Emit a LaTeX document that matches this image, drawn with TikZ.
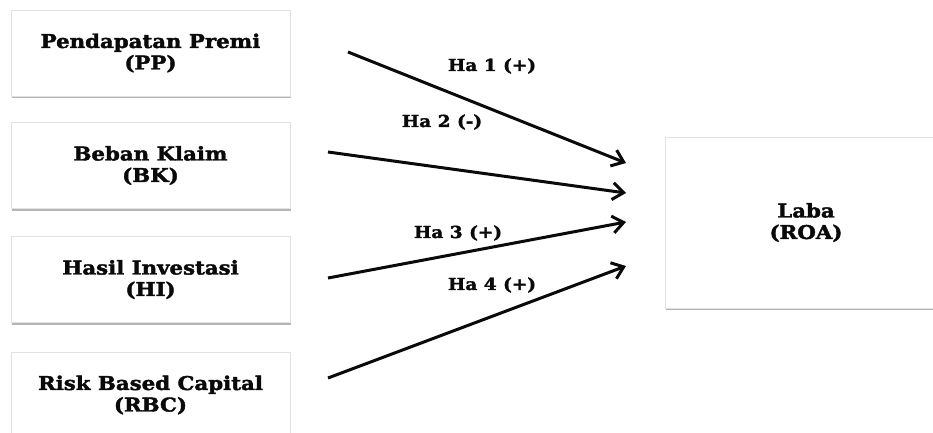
\documentclass[tikz,border=0pt]{standalone}
\usepackage{fontspec}
\usepackage{tikz}
\usetikzlibrary{positioning,arrows.meta,shadows}
\newfontfamily\boxfont[FakeStretch=1.12,FakeBold=2]{DejaVu Serif}
\definecolor{edge}{HTML}{E2E2E2}
\definecolor{shade}{HTML}{8C8C8C}
\definecolor{ink}{HTML}{0A0A0A}
\tikzset{
  varbox/.style  = {draw=edge, fill=white, line width=0.8pt, align=center,
                    minimum width=279, minimum height=86, inner sep=0pt,
                    font=\boxfont\bfseries\fontsize{19}{21.5}\selectfont\color{ink},
                    drop shadow={shadow xshift=0.6pt, shadow yshift=-2.4pt, fill=shade, opacity=0.65}},
  hyplab/.style  = {font=\boxfont\bfseries\fontsize{16.5}{18}\selectfont\color{ink}, inner sep=0pt},
  hyp/.style     = {-{Straight Barb[length=11pt,width=17pt,line width=3pt]}, draw=ink, line width=3pt},
}
\begin{document}
\begin{tikzpicture}[x=1pt,y=-1pt]
\clip (0,0) rectangle (933,432);
\fill[white] (0,0) rectangle (933,432);

% ---- independent variables ---------------------------------------------
\node[varbox] (pp)  at (150.5,53)  {Pendapatan Premi\\(PP)};
\node[varbox] (bk)  at (150.5,165.5) {Beban Klaim\\(BK)};
\node[varbox] (hi)  at (150.5,279.5) {Hasil Investasi\\(HI)};
\node[varbox] (rbc) at (150.5,395) {Risk Based Capital\\(RBC)};

% ---- dependent variable ------------------------------------------------
\node[varbox, minimum width=282, minimum height=171] (roa) at (806,222.5) {Laba\\(ROA)};

% ---- hypothesis arrows -------------------------------------------------
\coordinate (pp-out)  at (348,52);
\coordinate (bk-out)  at (328,152);
\coordinate (hi-out)  at (328,278);
\coordinate (rbc-out) at (328,378);
\coordinate (roa-in1) at (626,163);
\coordinate (roa-in2) at (626,193);
\coordinate (roa-in3) at (626,222);
\coordinate (roa-in4) at (626,266);

\draw[hyp] (pp-out)  -- (roa-in1);
\draw[hyp] (bk-out)  -- (roa-in2);
\draw[hyp] (hi-out)  -- (roa-in3);
\draw[hyp] (rbc-out) -- (roa-in4);

\node[hyplab] (ha1) at (492,66)  {Ha 1 (+)};
\node[hyplab] (ha2) at (442,122) {Ha 2 (-)};
\node[hyplab] (ha3) at (458,233) {Ha 3 (+)};
\node[hyplab] (ha4) at (492,285) {Ha 4 (+)};

\end{tikzpicture}
\end{document}
